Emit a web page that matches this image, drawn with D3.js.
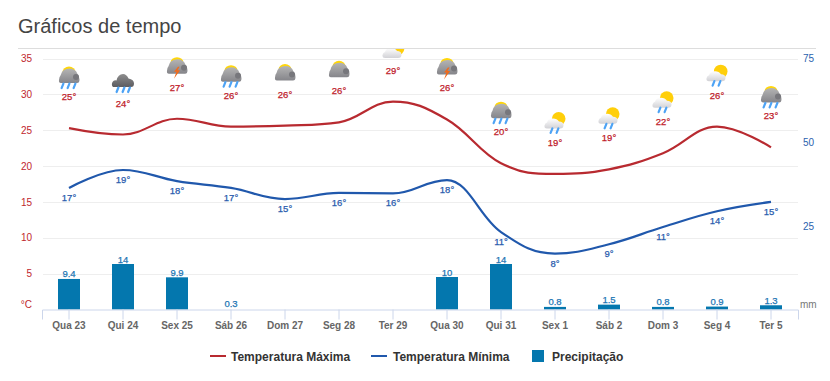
<!DOCTYPE html>
<html lang="pt">
<head>
<meta charset="utf-8">
<script src="https://cdn.jsdelivr.net/npm/d3@7"></script>
<style>
html,body{margin:0;padding:0;background:#fff;}
svg{display:block;font-family:"Liberation Sans",Arial,sans-serif;}
</style>
</head>
<body>
<div id="chart"></div>
<script>
const days = ["Qua 23","Qui 24","Sex 25","Sáb 26","Dom 27","Seg 28","Ter 29","Qua 30","Qui 31","Sex 1","Sáb 2","Dom 3","Seg 4","Ter 5"];
const maxCurve = [25.3,24.4,26.6,25.5,25.65,26.1,29,26.5,20.4,18.9,19.55,21.8,25.5,22.6];
const minCurve = [16.95,19.45,17.9,16.95,15.4,16.25,16.2,18.05,10.8,7.8,9.1,11.5,13.7,15];
const maxLabels = [25,24,27,26,26,26,29,26,20,19,19,22,26,23];
const minLabels = [17,19,18,17,15,16,16,18,11,8,9,11,14,15];
const rain = [9.4,14,9.9,0.3,null,null,null,10,14,0.8,1.5,0.8,0.9,1.3];
const icons = ["sunRain","cloudRain","sunStorm","sunRain","sunCloud","sunCloud","whiteSun","sunStorm","sunRain","whiteRain","whiteRain","whiteRain","whiteRain","sunRain"];
const tempTicks = [5,10,15,20,25,30,35];
const rainTicks = [25,50,75];
const seriesNames = ["Temperatura Máxima","Temperatura Mínima","Precipitação"];
const RED="#b82a30", BLUE="#2058ac", BAR="#0477ae";

const W=830,H=381,L=42,R=798,T=48,B=309.5;
const svg=d3.select("#chart").append("svg").attr("width",W).attr("height",H);
const defs=svg.append("defs");
defs.append("clipPath").attr("id","plot").append("rect").attr("x",0).attr("y",T+1).attr("width",W).attr("height",H-T);
function grad(id,a,b){const g=defs.append("linearGradient").attr("id",id).attr("x1",0).attr("y1",0).attr("x2",0).attr("y2",1);
  g.append("stop").attr("offset",0).attr("stop-color",a);g.append("stop").attr("offset",1).attr("stop-color",b);}
grad("greyC","#b4b4b4","#85858a");grad("darkC","#8e8e8e","#5c5c60");grad("whiteC","#ffffff","#d2d2d6");

const x=d3.scaleBand().domain(days).range([L,R]);
const yT=d3.scaleLinear().domain([0,35]).range([B,58.5]);
const yR=d3.scaleLinear().domain([0,75]).range([B,58.5]);
const yBar=d3.scaleLinear().domain([0,14]).range([B,264]);
const cx=d=>x(d)+x.bandwidth()/2;

// Title & top rule
svg.append("text").attr("x",18).attr("y",33).attr("fill","#444").style("font-size","20px").text("Gráficos de tempo");
svg.append("line").attr("x1",18).attr("x2",816).attr("y1",48.5).attr("y2",48.5).attr("stroke","#ddd");

// Grid
svg.append("g").selectAll("line").data(tempTicks).join("line")
  .attr("x1",L+1).attr("x2",R).attr("y1",d=>Math.round(yT(d))+.5).attr("y2",d=>Math.round(yT(d))+.5).attr("stroke","#eee");

// Bars (a 0.3 mm bar rounds away under the axis line in the reference)
const bw=22;
svg.append("g").selectAll("rect").data(days.map((d,i)=>({d,v:rain[i]})).filter(r=>r.v!==null&&r.v>=0.5)).join("rect")
  .attr("x",r=>cx(r.d)-bw/2).attr("width",bw).attr("y",r=>yBar(r.v)).attr("height",r=>B-yBar(r.v)).attr("fill",BAR);

// Axes
const ax=svg.append("g").attr("transform",`translate(0,${B})`).call(d3.axisBottom(x).tickSize(10).tickPadding(2));
ax.select(".domain").attr("stroke","#ccd6eb");
ax.selectAll(".tick line").attr("stroke","#ccd6eb");
ax.selectAll("text").attr("fill","#666").style("font-size","10px").style("font-weight","bold");

const ay=svg.append("g").attr("transform",`translate(${L},0)`).call(d3.axisLeft(yT).tickValues(tempTicks).tickSize(0).tickPadding(10));
ay.select(".domain").remove();
ay.selectAll("text").attr("fill","#c0272d").style("font-size","10px");
const ar=svg.append("g").attr("transform",`translate(${R},0)`).call(d3.axisRight(yR).tickValues(rainTicks).tickSize(0).tickPadding(5));
ar.select(".domain").remove();
ar.selectAll("text").attr("fill","#2b62ae").style("font-size","10px");
svg.append("text").attr("x",32).attr("y",308).attr("text-anchor","end").attr("fill","#c0272d").style("font-size","10px").text("°C");
svg.append("text").attr("x",800).attr("y",308).attr("fill","#777").style("font-size","10px").text("mm");

// Highcharts-style spline as a d3 curve
function splineCurve(ctx){
  let pts;
  return {
    lineStart(){pts=[];},
    point(a,b){pts.push([+a,+b]);},
    lineEnd(){
      const s=1.5,n=pts.length,cL=[],cR=[];
      pts.forEach((p,i)=>{
        if(i===0||i===n-1){cL[i]=p;cR[i]=p;return;}
        const l=pts[i-1],r=pts[i+1];
        const lx=(s*p[0]+l[0])/(s+1),rx=(s*p[0]+r[0])/(s+1);
        let ly=(s*p[1]+l[1])/(s+1),ry=(s*p[1]+r[1])/(s+1);
        const c=(ry-ly)*(rx-p[0])/(rx-lx)+p[1]-ry;
        ly+=c;ry+=c;
        if(ly>l[1]&&ly>p[1]){ly=Math.max(l[1],p[1]);ry=2*p[1]-ly;}
        else if(ly<l[1]&&ly<p[1]){ly=Math.min(l[1],p[1]);ry=2*p[1]-ly;}
        if(ry>r[1]&&ry>p[1]){ry=Math.max(r[1],p[1]);ly=2*p[1]-ry;}
        else if(ry<r[1]&&ry<p[1]){ry=Math.min(r[1],p[1]);ly=2*p[1]-ry;}
        cL[i]=[lx,ly];cR[i]=[rx,ry];
      });
      ctx.moveTo(pts[0][0],pts[0][1]);
      for(let i=1;i<n;i++)ctx.bezierCurveTo(cR[i-1][0],cR[i-1][1],cL[i][0],cL[i][1],pts[i][0],pts[i][1]);
    }
  };
}
const line=d3.line().x((v,i)=>cx(days[i])).y(v=>yT(v)).curve(splineCurve);
svg.append("path").datum(maxCurve).attr("d",line).attr("fill","none").attr("stroke",RED).attr("stroke-width",2.2);
svg.append("path").datum(minCurve).attr("d",line).attr("fill","none").attr("stroke",BLUE).attr("stroke-width",2.2);

// Icons
function drops(g,xs,y0){const y=y0===undefined?5.5:y0;xs.forEach(dx=>{g.append("path").attr("d",`M${dx+.9},${y} L${dx-.9},${y+4.5}`).attr("stroke","#4da3f5").attr("stroke-width",2.2).attr("stroke-linecap","round").attr("fill","none");});}
const CLOUD="M-8,5 Q-10.5,5 -10,2 Q-9.8,-1.5 -8.5,-2.5 Q-7,-9.5 .5,-9.5 Q6.5,-9.5 8.5,-4 Q10.5,-2 10.5,1.5 Q10.5,5 8,5 Z";
const WHITE="M-8,4.5 Q-11,4.5 -10.5,1.5 Q-10,-1 -8,-1.5 Q-7,-5.5 -2,-5.5 Q2,-5.5 4,-2.5 Q8.5,-2.5 8.5,1 Q8.5,4.5 5,4.5 Z";
const drawIcon={
  sunDome(g){g.append("ellipse").attr("cx",0).attr("cy",-6).attr("rx",6.5).attr("ry",5.5).attr("fill","#ffd60a");},
  grey(g){g.append("path").attr("d",CLOUD).attr("fill","url(#greyC)");g.append("circle").attr("cx",7).attr("cy",-1).attr("r",3).attr("fill","#77777c");},
  sunRain(g){this.sunDome(g);this.grey(g);drops(g,[-6.5,-.5,5.5]);},
  sunCloud(g){this.sunDome(g);this.grey(g);},
  sunStorm(g){this.sunDome(g);this.grey(g);
    g.append("path").attr("d","M1,-2 L-3,3 L-.5,3 L-3,10 L3,1.5 L.5,1.5 L2.5,-2 Z").attr("fill","#f26a1b");},
  cloudRain(g){g.append("path").attr("d","M-10,2.5 Q-12,.5 -10.5,-2.5 Q-9,-5 -6.5,-4 Q-5,-10.5 0,-10.5 Q3.5,-10.5 5.5,-6 Q11,-5 11,-1 Q11,2.5 8,2.5 Z").attr("fill","url(#darkC)");drops(g,[-5.5,.5,6],3);},
  whiteSun(g){const h=g.append("g").attr("transform","translate(0,2)");
    h.append("circle").attr("cx",4.5).attr("cy",-5).attr("r",6.8).attr("fill","#ffcf0a");
    h.append("path").attr("d",WHITE).attr("fill","url(#whiteC)");},
  whiteRain(g){g.append("circle").attr("cx",3.7).attr("cy",-5.2).attr("r",6.8).attr("fill","#ffcf0a");
    g.append("path").attr("d",WHITE).attr("fill","url(#whiteC)");drops(g,[-3.5,2.5],4.5);}
};
const iconLayer=svg.append("g").attr("clip-path","url(#plot)");
icons.forEach((t,i)=>{
  const g=iconLayer.append("g").attr("transform",`translate(${cx(days[i])},${yT(maxCurve[i])-50})`);
  drawIcon[t](g);
});

// Labels
function labels(vals,pos,fill,fmt){
  return svg.append("g").selectAll("text").data(vals.map((v,i)=>({v,i})).filter(d=>d.v!==null)).join("text")
    .attr("x",d=>cx(days[d.i])).attr("y",d=>pos(d)).attr("text-anchor","middle")
    .attr("fill",fill).attr("stroke",fill).attr("stroke-width",.25)
    .style("font-size","9.5px").text(d=>fmt(d.v));
}
labels(maxLabels,d=>yT(maxCurve[d.i])-28,"#c0202a",v=>v+"°");
labels(minLabels,d=>yT(minCurve[d.i])+13,"#2a5cae",v=>v+"°");
labels(rain,d=>yBar(rain[d.i])-1.5,"#1d76b4",v=>v);

// Legend
const ly=356;
const lg=svg.append("g");
lg.append("line").attr("x1",210).attr("x2",226).attr("y1",ly).attr("y2",ly).attr("stroke",RED).attr("stroke-width",2);
lg.append("line").attr("x1",371).attr("x2",387).attr("y1",ly).attr("y2",ly).attr("stroke",BLUE).attr("stroke-width",2);
lg.append("rect").attr("x",532).attr("y",350).attr("width",12).attr("height",12).attr("fill",BAR);
[231,393,552].forEach((px,i)=>lg.append("text").attr("x",px).attr("y",361).attr("fill","#333").style("font-size","12px").style("font-weight","bold").text(seriesNames[i]));
</script>
</body>
</html>
